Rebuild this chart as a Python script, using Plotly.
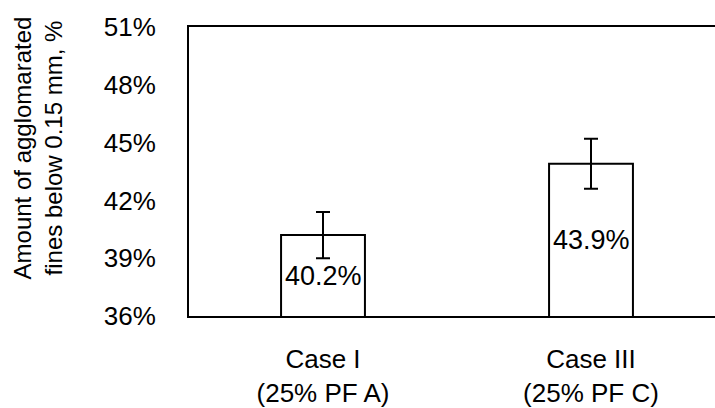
import plotly.graph_objects as go

categories = ["Case I<br>(25% PF A)", "Case III<br>(25% PF C)"]
values = [40.2, 43.9]
errors = [1.2, 1.3]
y_ticks = [36, 39, 42, 45, 48, 51]
y_tick_labels = [f"{t}%" for t in y_ticks]
y_title = "Amount of agglomarated<br>fines below 0.15 mm, %"

FONT = "Arial, 'Liberation Sans', sans-serif"
y_min, y_max = y_ticks[0], y_ticks[-1]

fig = go.Figure(
    go.Bar(
        x=[0, 1],
        y=values,
        width=0.313,
        marker=dict(color="white", line=dict(color="black", width=2)),
        error_y=dict(type="data", array=errors, visible=True, color="black", thickness=2, width=7),
        hoverinfo="skip",
    )
)

annotations = []
for i, v in enumerate(values):
    annotations.append(dict(
        x=i, y=(y_min + v) / 2, xref="x", yref="y",
        text=f"{v:.1f}%", showarrow=False,
        font=dict(family=FONT, size=27, color="black"),
        xanchor="center", yanchor="middle",
    ))
annotations.append(dict(
    x=-0.287, y=0.58, xref="paper", yref="paper",
    text=y_title, showarrow=False, textangle=-90,
    font=dict(family=FONT, size=24, color="black"),
    xanchor="center", yanchor="middle",
))

fig.update_layout(
    width=715,
    height=408,
    margin=dict(l=189, r=0, t=27, b=89),
    paper_bgcolor="white",
    plot_bgcolor="white",
    showlegend=False,
    font=dict(family=FONT, size=26, color="black"),
    annotations=annotations,
    xaxis=dict(
        range=[-0.5, 1.5 - 10 / 268],
        tickmode="array",
        tickvals=[0, 1],
        ticktext=categories,
        showline=True,
        linecolor="black",
        linewidth=2,
        mirror=True,
        showgrid=False,
        zeroline=False,
        ticks="",
        ticklabelstandoff=19,
        tickfont=dict(family=FONT, size=26, color="black"),
    ),
    yaxis=dict(
        range=[y_min, y_max],
        tickmode="array",
        tickvals=y_ticks,
        ticktext=y_tick_labels,
        showline=True,
        linecolor="black",
        linewidth=2,
        mirror=False,
        showgrid=False,
        zeroline=False,
        ticks="",
        ticklabelstandoff=26,
        tickfont=dict(family=FONT, size=26, color="black"),
    ),
)

fig.write_html("out.html")
